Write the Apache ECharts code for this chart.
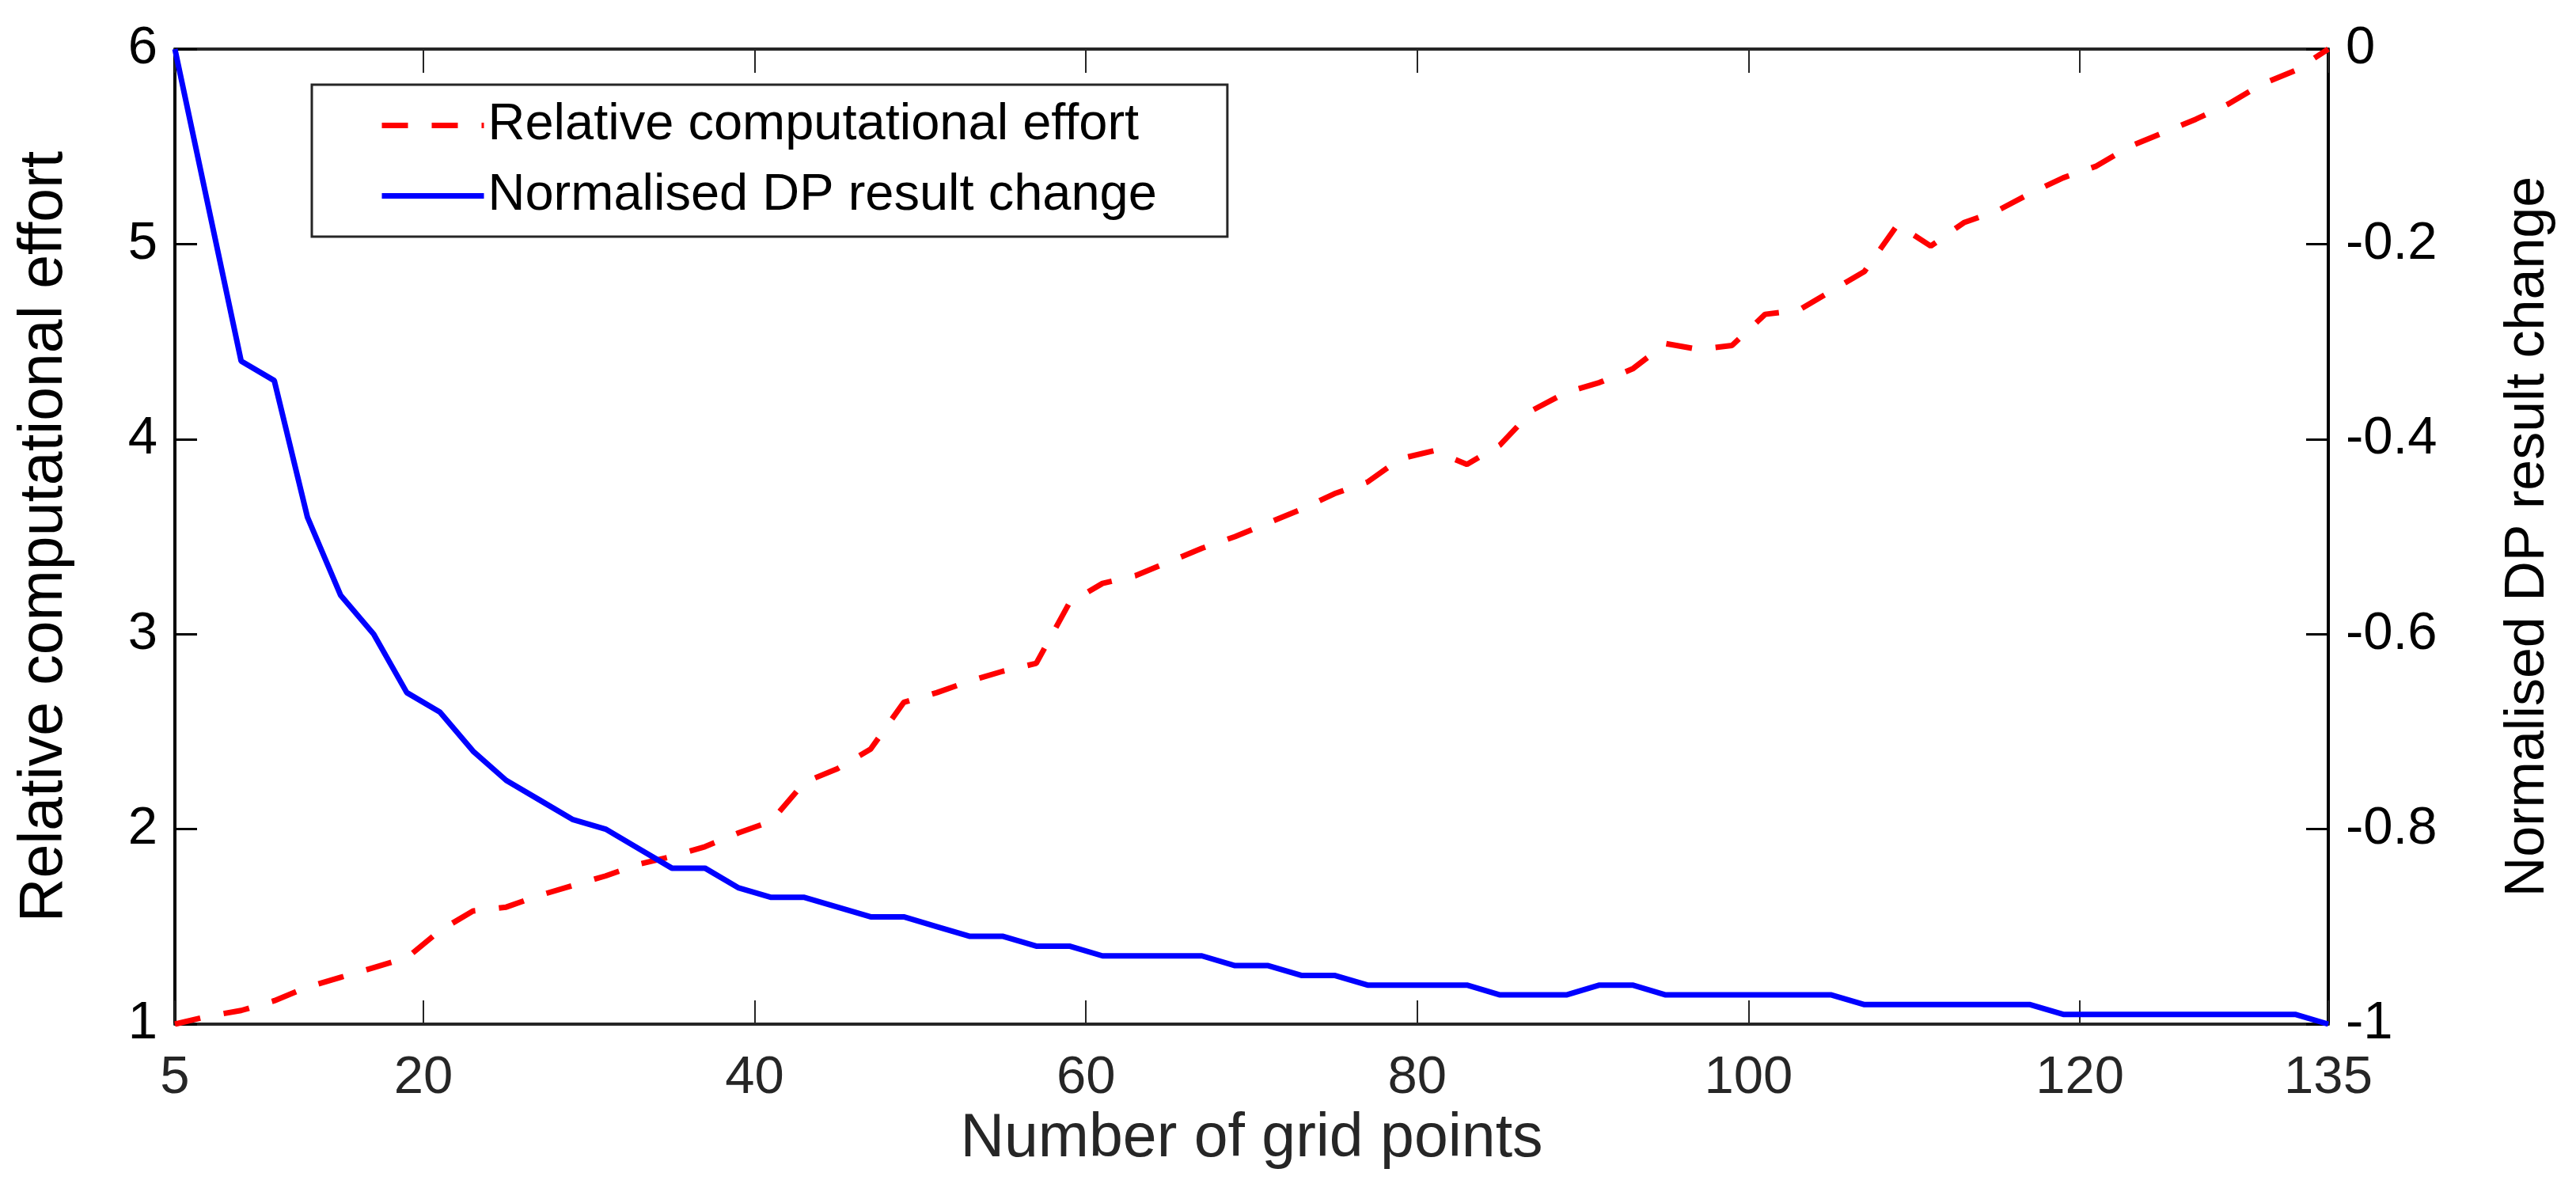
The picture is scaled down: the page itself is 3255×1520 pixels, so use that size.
<!DOCTYPE html>
<html>
<head>
<meta charset="utf-8">
<script src="https://cdn.jsdelivr.net/npm/echarts@6/dist/echarts.min.js"></script>
<style>
html,body{margin:0;padding:0;background:#ffffff;}
#chart{width:3255px;height:1520px;}
</style>
</head>
<body>
<div id="chart"></div>
<script>
// ---- data ----
const seriesNames = ['Relative computational effort', 'Normalised DP result change'];

// Relative computational effort (left axis)
const effortX = [5,7,9,11,13,15,17,19,21,23,25,27,29,31,33,35,37,39,41,43,45,47,49,51,53,55,57,59,61,63,65,67,69,
  71,73,75,77,79,81,83,85,87,89,91,93,95,97,99,101,103,105,107,109,111,113,115,117,119,121,123,125,127,129,131,133,135];
const effortValues = [1.00,1.04,1.07,1.12,1.19,1.24,1.29,1.34,1.48,1.58,1.60,1.66,1.71,1.76,1.82,1.86,1.91,1.98,2.04,2.24,2.31,2.41,2.65,2.70,2.76,2.81,2.85,3.16,3.26,3.30,3.37,3.44,3.50,
  3.57,3.64,3.72,3.78,3.90,3.94,3.87,3.97,4.15,4.24,4.29,4.36,4.49,4.46,4.48,4.64,4.66,4.76,4.86,5.10,4.99,5.11,5.17,5.26,5.34,5.40,5.50,5.57,5.64,5.72,5.82,5.89,6.00];

// Normalised DP result change (right axis)
const changeX = [5,9,11,13,15,17,19,21,23,25,27,29,31,33,35,37,39,41,43,45,47,49,51,53,55,57,59,61,63,65,67,69,
  71,73,75,77,79,81,83,85,87,89,91,93,95,97,99,101,103,105,107,109,111,113,115,117,119,121,123,125,127,129,131,133,135];
const changeValues = [0,-0.32,-0.34,-0.48,-0.56,-0.60,-0.66,-0.68,-0.72,-0.75,-0.77,-0.79,-0.80,-0.82,-0.84,-0.84,-0.86,-0.87,-0.87,-0.88,-0.89,-0.89,-0.90,-0.91,-0.91,-0.92,-0.92,-0.93,-0.93,-0.93,-0.93,-0.94,
  -0.94,-0.95,-0.95,-0.96,-0.96,-0.96,-0.96,-0.97,-0.97,-0.97,-0.96,-0.96,-0.97,-0.97,-0.97,-0.97,-0.97,-0.97,-0.98,-0.98,-0.98,-0.98,-0.98,-0.98,-0.99,-0.99,-0.99,-0.99,-0.99,-0.99,-0.99,-0.99,-1.00];

// tick positions / labels
const xTickValues = [5,20,40,60,80,100,120,135];
const xAxisName = 'Number of grid points';
const leftAxisName = 'Relative computational effort';
const rightAxisName = 'Normalised DP result change';

// ---- chart ----
const FONT = "'Liberation Sans', Arial, Helvetica, sans-serif";
const AXIS = '#262626';

const effortData = effortX.map((x, i) => [x, effortValues[i]]);
const changeData = changeX.map((x, i) => [x, changeValues[i]]);

const chart = echarts.init(document.getElementById('chart'), null, {renderer: 'canvas'});

const xAxisCommon = {
  type: 'value', min: 5, max: 135,
  axisLine: {show: true, onZero: false, lineStyle: {color: AXIS, width: 4}},
  axisTick: {show: true, inside: true, length: 30, customValues: xTickValues, lineStyle: {color: AXIS, width: 2}},
  splitLine: {show: false}
};

const option = {
  animation: false,
  backgroundColor: '#ffffff',
  grid: {left: 221, right: 313, top: 62, bottom: 226, containLabel: false},
  legend: {
    orient: 'vertical', left: 394, top: 107,
    data: seriesNames,
    itemWidth: 129, itemHeight: 1, itemGap: 24,
    padding: [19, 89, 19, 85],
    borderColor: AXIS, borderWidth: 3,
    backgroundColor: '#ffffff',
    selectedMode: false,
    lineStyle: {width: 7},
    textStyle: {fontFamily: FONT, fontSize: 65, color: '#000000', lineHeight: 65}
  },
  xAxis: [
    Object.assign({}, xAxisCommon, {
      position: 'bottom',
      name: xAxisName, nameLocation: 'middle', nameGap: 107,
      nameTextStyle: {fontFamily: FONT, fontSize: 77, color: '#262626'},
      axisLabel: {show: true, customValues: xTickValues, margin: 35, fontFamily: FONT, fontSize: 67, color: AXIS}
    }),
    Object.assign({}, xAxisCommon, {
      position: 'top',
      axisLabel: {show: false}
    })
  ],
  yAxis: [
    {
      type: 'value', min: 1, max: 6, interval: 1, position: 'left',
      name: leftAxisName, nameLocation: 'middle', nameGap: 126, nameRotate: 90,
      nameTextStyle: {fontFamily: FONT, fontSize: 77, color: '#000000'},
      axisLine: {show: true, onZero: false, lineStyle: {color: '#000000', width: 4}},
      axisTick: {show: true, inside: true, length: 28, lineStyle: {color: '#000000', width: 3}},
      axisLabel: {margin: 22, fontFamily: FONT, fontSize: 67, color: '#000000'},
      splitLine: {show: false}
    },
    {
      type: 'value', min: -1, max: 0, interval: 0.2, position: 'right',
      name: rightAxisName, nameLocation: 'middle', nameGap: 218, nameRotate: 90,
      nameTextStyle: {fontFamily: FONT, fontSize: 70, color: '#000000'},
      axisLine: {show: true, onZero: false, lineStyle: {color: '#000000', width: 4}},
      axisTick: {show: true, inside: true, length: 28, lineStyle: {color: '#000000', width: 3}},
      axisLabel: {margin: 22, fontFamily: FONT, fontSize: 67, color: '#000000',
        formatter: v => String(Math.round(v * 10) / 10)},
      splitLine: {show: false}
    }
  ],
  series: [
    {
      name: seriesNames[0], type: 'line', xAxisIndex: 0, yAxisIndex: 0,
      data: effortData, symbol: 'none', showSymbol: false,
      lineStyle: {color: '#ff0000', width: 7, type: [33, 30]},
      itemStyle: {color: '#ff0000'}, z: 2
    },
    {
      name: seriesNames[1], type: 'line', xAxisIndex: 0, yAxisIndex: 1,
      data: changeData, symbol: 'none', showSymbol: false,
      lineStyle: {color: '#0000ff', width: 7},
      itemStyle: {color: '#0000ff'}, z: 3
    }
  ]
};

chart.setOption(option);
</script>
</body>
</html>
